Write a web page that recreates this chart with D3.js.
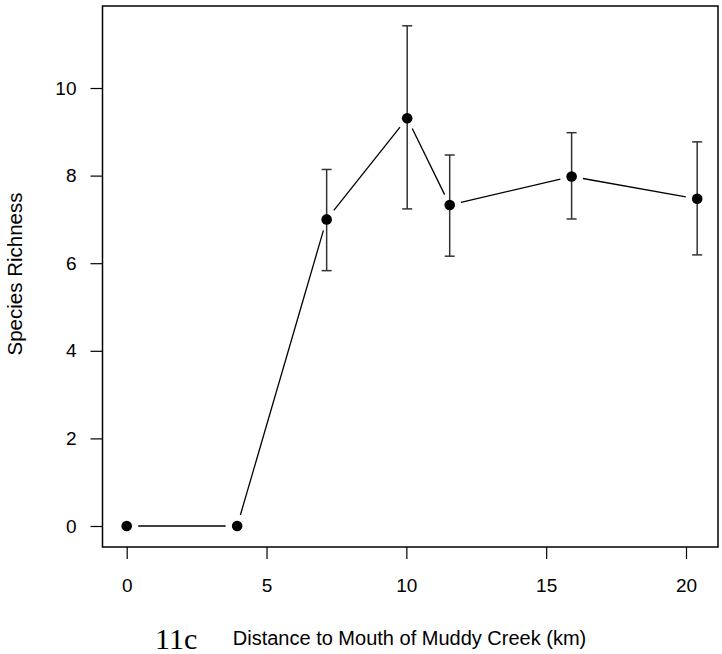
<!DOCTYPE html>
<html>
<head>
<meta charset="utf-8">
<script src="https://cdn.jsdelivr.net/npm/d3@7"></script>
<style>
  html, body { margin: 0; padding: 0; background: #fff; }
  svg { display: block; }
  text { fill: #000; }
</style>
</head>
<body>
<svg id="chart" width="722" height="654"></svg>
<script>
// Data
const distance = [0, 3.95, 7.15, 10.03, 11.55, 15.91, 20.4];
const richness = [0, 0, 7.00, 9.31, 7.33, 7.98, 7.47];
const upperErr = [null, null, 8.14, 11.42, 8.47, 8.98, 8.77];
const lowerErr = [null, null, 5.83, 7.24, 6.16, 7.01, 6.19];
const xTicks = [0, 5, 10, 15, 20];
const yTicks = [0, 2, 4, 6, 8, 10];

const SANS = "'Liberation Sans', Arial, sans-serif";
const SERIF = "'Liberation Serif', 'Times New Roman', serif";

const svg = d3.select("#chart");
const box = { left: 102.5, right: 718, top: 6, bottom: 547 };

const x = d3.scaleLinear().domain([0, 20]).range([126.7, 686]);
const y = d3.scaleLinear().domain([0, 10]).range([526, 88]);

// plot box
svg.append("rect")
  .attr("x", box.left).attr("y", box.top)
  .attr("width", box.right - box.left).attr("height", box.bottom - box.top)
  .attr("fill", "none").attr("stroke", "#000").attr("stroke-width", 1.5);

// axes
const xAxis = svg.append("g").attr("transform", `translate(0,${box.bottom})`)
  .call(d3.axisBottom(x).tickValues(xTicks).tickSize(12).tickPadding(20).tickFormat(d3.format("d")));
xAxis.select(".domain").remove();
xAxis.selectAll("line").attr("stroke", "#000").attr("stroke-width", 1.2);
xAxis.selectAll("text").style("font-size", "19px").style("font-family", SANS).attr("dy", "0.71em");

const yAxis = svg.append("g").attr("transform", `translate(${box.left},0)`)
  .call(d3.axisLeft(y).tickValues(yTicks).tickSize(12).tickPadding(14).tickFormat(d3.format("d")));
yAxis.select(".domain").remove();
yAxis.selectAll("line").attr("stroke", "#000").attr("stroke-width", 1.2);
yAxis.selectAll("text").style("font-size", "19px").style("font-family", SANS);

// axis titles
svg.append("text")
  .attr("x", 409.5).attr("y", 645)
  .attr("text-anchor", "middle")
  .style("font-size", "20px").style("font-family", SANS)
  .text("Distance to Mouth of Muddy Creek (km)");

svg.append("text")
  .attr("transform", "translate(22,274) rotate(-90)")
  .attr("text-anchor", "middle")
  .style("font-size", "20.5px").style("font-family", SANS)
  .text("Species Richness");

svg.append("text")
  .attr("x", 155).attr("y", 649)
  .style("font-family", SERIF)
  .style("font-size", "30px")
  .text("11c");

// data
const pts = distance.map((d, i) => ({ x: d, y: richness[i], hi: upperErr[i], lo: lowerErr[i] }));

// line segments with gaps (type "b")
const gap = 11.5;
const segs = d3.pairs(pts);
svg.append("g").selectAll("line").data(segs).join("line")
  .each(function([a, b]) {
    const x1 = x(a.x), y1 = y(a.y), x2 = x(b.x), y2 = y(b.y);
    const len = Math.hypot(x2 - x1, y2 - y1);
    const ux = (x2 - x1) / len, uy = (y2 - y1) / len;
    d3.select(this)
      .attr("x1", x1 + ux * gap).attr("y1", y1 + uy * gap)
      .attr("x2", x2 - ux * gap).attr("y2", y2 - uy * gap);
  })
  .attr("stroke", "#000").attr("stroke-width", 1.3);

// error bars
const eb = svg.append("g").attr("stroke", "#333").attr("stroke-width", 1.5);
const withErr = pts.filter(p => p.hi !== null);
eb.selectAll(".v").data(withErr).join("line")
  .attr("x1", p => x(p.x)).attr("x2", p => x(p.x))
  .attr("y1", p => y(p.hi)).attr("y2", p => y(p.lo));
eb.selectAll(".ct").data(withErr).join("line")
  .attr("x1", p => x(p.x) - 5).attr("x2", p => x(p.x) + 5)
  .attr("y1", p => y(p.hi)).attr("y2", p => y(p.hi));
eb.selectAll(".cb").data(withErr).join("line")
  .attr("x1", p => x(p.x) - 5).attr("x2", p => x(p.x) + 5)
  .attr("y1", p => y(p.lo)).attr("y2", p => y(p.lo));

// points
svg.append("g").selectAll("circle").data(pts).join("circle")
  .attr("cx", p => x(p.x)).attr("cy", p => y(p.y)).attr("r", 5.3)
  .attr("fill", "#000");
</script>
</body>
</html>
